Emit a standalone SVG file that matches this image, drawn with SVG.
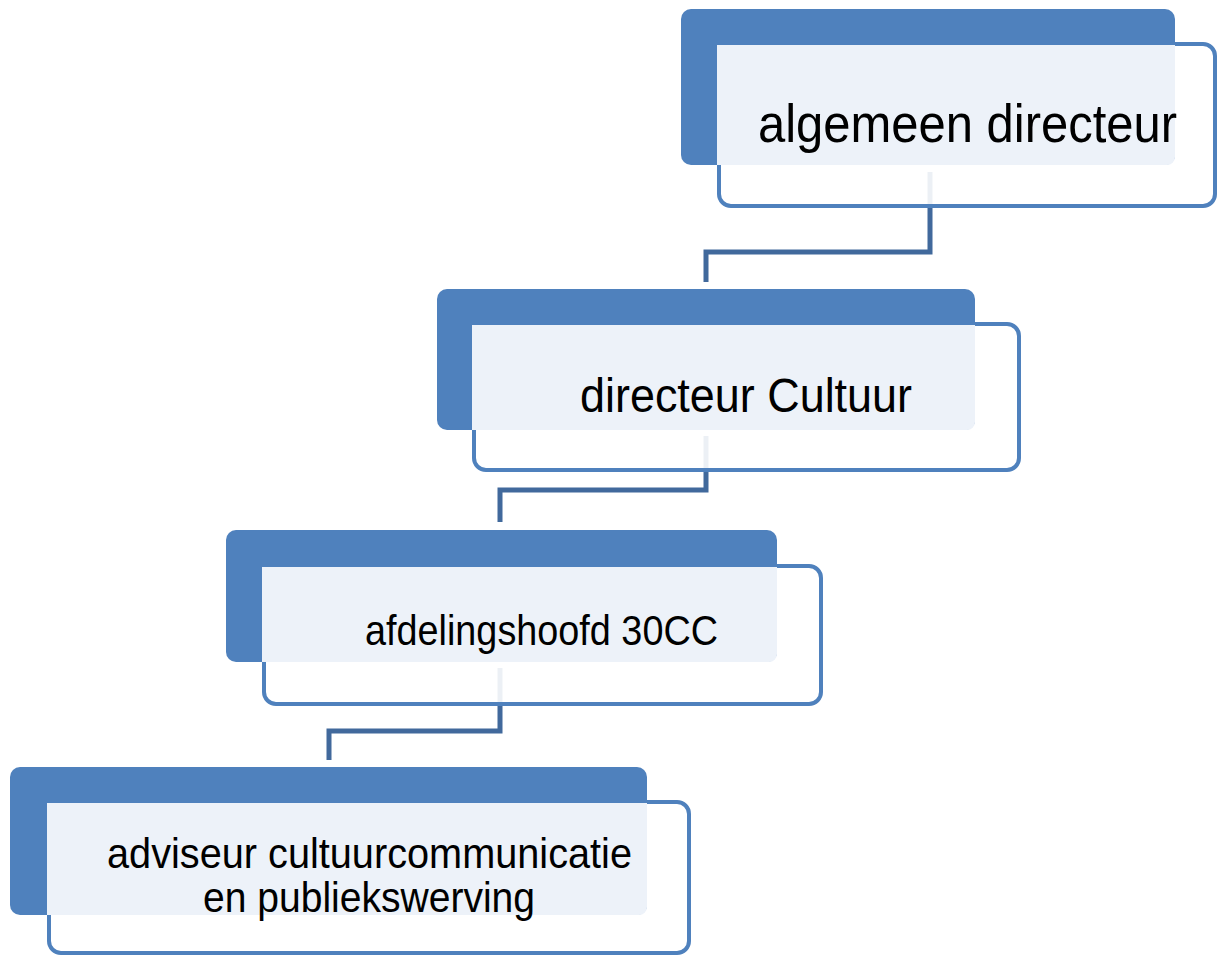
<svg xmlns="http://www.w3.org/2000/svg" width="1218" height="956" viewBox="0 0 1218 956">
<style>
.back{fill:#4F81BD}
.front{fill:#FFFFFF;fill-opacity:0.9;stroke:#4F81BD;stroke-width:4}
.light{fill:#EDF2F9}
.conn{fill:none;stroke:#41699C;stroke-width:5}
.lbl{font-family:"Liberation Sans",Arial,sans-serif;fill:#000}
</style>
<rect width="1218" height="956" fill="#FFFFFF"/>
<g id="connectors">
<path class="conn" d="M930 172 V252 H706 V282"/>
<path class="conn" d="M706 436 V490 H500 V522"/>
<path class="conn" d="M500 668 V731 H329 V760"/>
</g>
<g id="node1">
<rect class="front" x="719" y="44" width="496" height="162" rx="12"/>
<rect class="back" x="681" y="9" width="494" height="156" rx="10"/>
<path class="light" d="M717 45 H1175 V157 a8 8 0 0 1 -8 8 H717 Z"/>
<text class="lbl" x="758" y="142" font-size="53" textLength="419" lengthAdjust="spacingAndGlyphs">algemeen directeur</text>
</g>
<g id="node2">
<rect class="front" x="474" y="324" width="545" height="146" rx="12"/>
<rect class="back" x="437" y="289" width="538" height="141" rx="10"/>
<path class="light" d="M472 325 H975 V422 a8 8 0 0 1 -8 8 H472 Z"/>
<text class="lbl" x="580" y="412" font-size="49" textLength="332" lengthAdjust="spacingAndGlyphs">directeur Cultuur</text>
</g>
<g id="node3">
<rect class="front" x="264" y="566" width="557" height="138" rx="12"/>
<rect class="back" x="226" y="530" width="551" height="132" rx="10"/>
<path class="light" d="M262 567 H777 V654 a8 8 0 0 1 -8 8 H262 Z"/>
<text class="lbl" x="365" y="645" font-size="42" textLength="353" lengthAdjust="spacingAndGlyphs">afdelingshoofd 30CC</text>
</g>
<g id="node4">
<rect class="front" x="49" y="802" width="640" height="151" rx="12"/>
<rect class="back" x="10" y="767" width="637" height="148" rx="10"/>
<path class="light" d="M47 803 H647 V907 a8 8 0 0 1 -8 8 H47 Z"/>
<text class="lbl" font-size="43"><tspan x="107" y="868" textLength="525" lengthAdjust="spacingAndGlyphs">adviseur cultuurcommunicatie</tspan><tspan x="203" y="912" textLength="332" lengthAdjust="spacingAndGlyphs">en publiekswerving</tspan></text>
</g>
</svg>
